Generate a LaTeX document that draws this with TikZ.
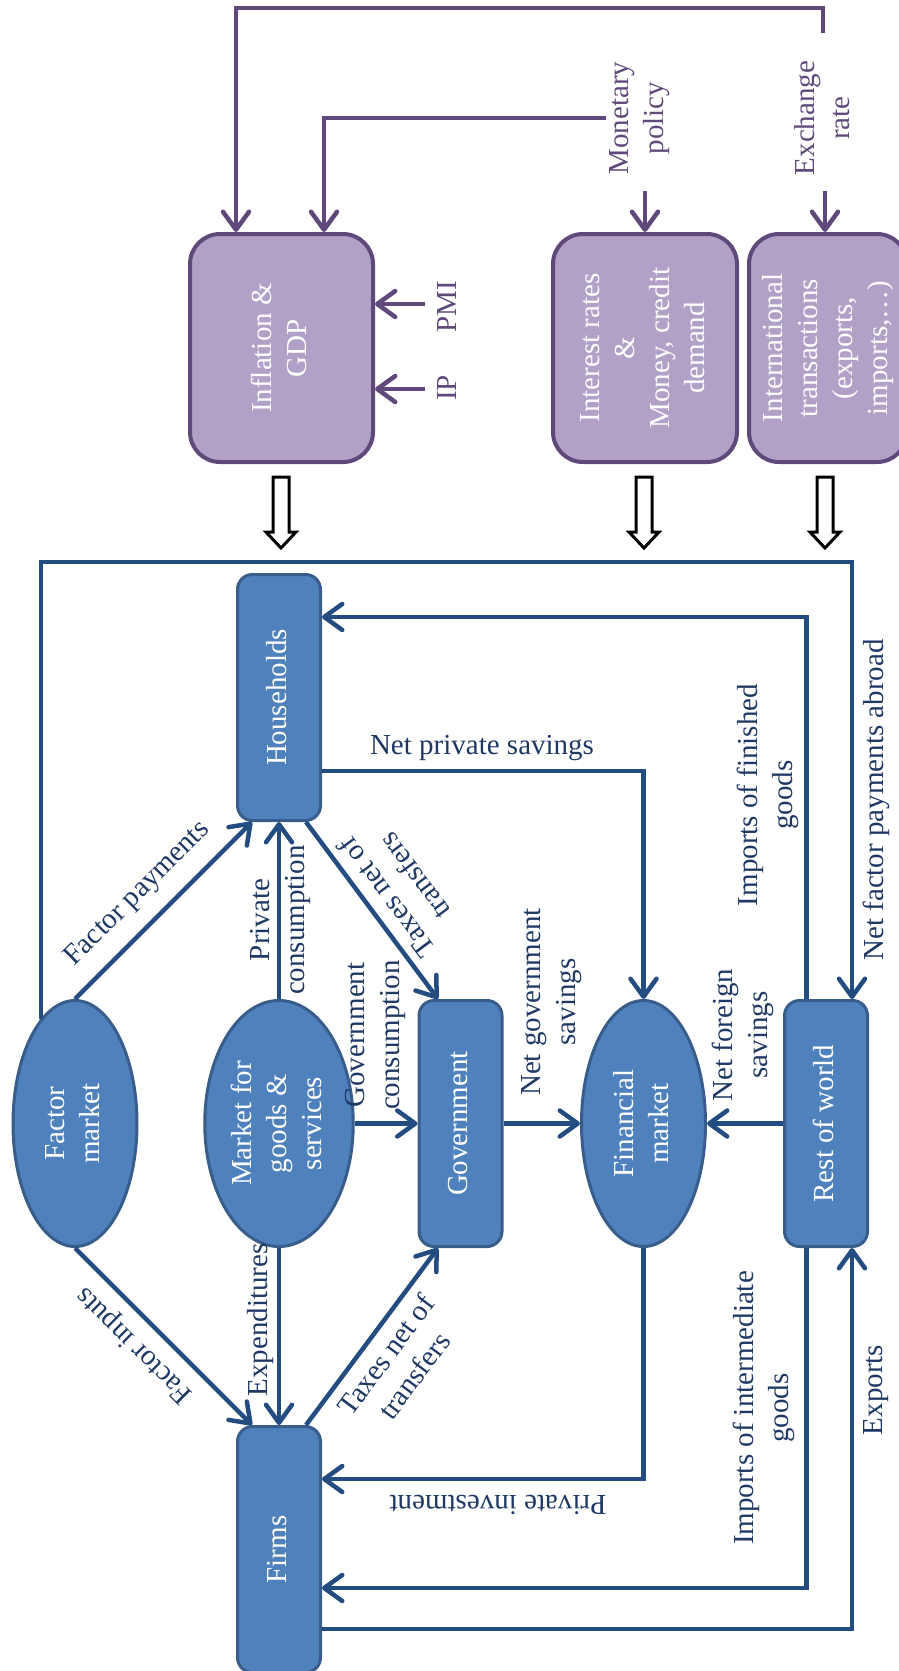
\documentclass[tikz,border=0pt]{standalone}
\usepackage{graphicx}
\usepackage{fontspec}
\setmainfont{Liberation Serif}
\usetikzlibrary{shapes.geometric,arrows.meta,calc}
\definecolor{bfill}{HTML}{4F81BD}
\definecolor{bdraw}{HTML}{385D8A}
\definecolor{bline}{HTML}{234C81}
\definecolor{btext}{HTML}{1F3864}
\definecolor{pfill}{HTML}{B2A1C7}
\definecolor{pdraw}{HTML}{5F497A}
\newcommand{\rtext}[1]{\rotatebox{90}{\begin{tabular}{@{}c@{}}#1\end{tabular}}}
\begin{document}
\begin{tikzpicture}[x=1pt,y=-1pt,
  every node/.style={font=\fontsize{29}{35}\selectfont},
  bbox/.style={draw=bdraw, fill=bfill, line width=3pt, rounded corners=15pt, minimum width=83pt, minimum height=246pt, inner sep=0pt, text=white},
  bell/.style={ellipse, draw=bdraw, fill=bfill, line width=3pt, minimum width=124pt, minimum height=246pt, inner sep=0pt, text=white},
  pbox/.style={draw=pdraw, fill=pfill, line width=4pt, rounded corners=30pt, minimum height=228pt, inner sep=0pt, text=white},
  blab/.style={text=btext, align=center},
  plab/.style={text=pdraw, align=center},
  tip/.style={-{Straight Barb[length=18pt,width=26pt,round]}},
  bcon/.style={draw=bline, line width=4.5pt, tip},
  pcon/.style={draw=pdraw, line width=4.5pt, tip},
  hollow/.style={draw=black, fill=white, line width=3pt, line join=miter},
]
\useasboundingbox (0,0) rectangle (898,1671);

% ---------- purple part ----------
\node[pbox, minimum width=183pt] (infl) at (281.5,348) {\rtext{Inflation \&\\GDP}};
\node[pbox, minimum width=184pt] (intr) at (645,348) {\rtext{Interest rates\\\&\\Money, credit\\demand}};
\node[pbox, minimum width=158pt] (intl) at (828,348) {\rtext{International\\transactions\\(exports,\\imports,\ldots)}};

\node[plab, rotate=90] (mon) at (640,118) {Monetary\\policy};
\node[plab, rotate=90] (exr) at (822,118) {Exchange\\rate};
\node[plab, rotate=90] (pmi) at (447,307) {PMI};
\node[plab, rotate=90] (ip) at (447,388) {IP};

\coordinate (exrtop) at (823,33);
\coordinate (monb) at ($(intr.north)+(0,-41)$);
\coordinate (exb) at ($(intl.north)+(-3,-41)$);

\draw[pcon] (exrtop) |- (236,8) -- ($(infl.north)+(-45.5,0)$);
\draw[pcon] (mon.north) -| ($(infl.north)+(42.5,0)$);
\draw[pcon] (monb) -- (intr.north);
\draw[pcon] (exb) -- ($(intl.north)+(-3,0)$);
\draw[pcon] ($(pmi.north)+(-9,-3)$) -- ($(infl.east)+(0,-44)$);
\draw[pcon] ($(ip.north)+(-9,1)$) -- ($(infl.east)+(0,41)$);

% hollow arrows
\coordinate (h1) at (281,477);
\coordinate (h2) at (644,477);
\coordinate (h3) at (825,477);
\foreach \h in {h1,h2,h3}{
  \draw[hollow] (\h) ++(-8,0) -- ++(16,0) -- ++(0,55) -- ++(7,0) -- ++(-15,16) -- ++(-15,-16) -- ++(7,0) -- cycle;
}

% ---------- blue part ----------
\node[bbox] (hh) at (279,697.5) {\rtext{Households}};
\node[bell] (fm) at (75,1123.5) {\rtext{Factor\\market}};
\node[bell] (mg) at (279,1123.5) {\rtext{Market for\\goods \&\\services}};
\node[bbox] (gov) at (460.5,1123.5) {\rtext{Government}};
\node[bell] (fin) at (643.5,1123.5) {\rtext{Financial\\market}};
\node[bbox] (rw) at (826,1123.5) {\rtext{Rest of world}};
\node[bbox] (firm) at (279,1549.5) {\rtext{Firms}};

\coordinate (tr) at (852,562);

\draw[bcon] (fm.north) -- ($(hh.south)+(-27,0)$);
\draw[bcon] (mg.north) -- (hh.south);
\draw[bcon] ($(hh.south)+(27,0)$) -- ($(gov.north)+(-22.5,0)$);
\draw[bcon] (mg.east) -- (gov.west);
\draw[bcon] (gov.east) -- (fin.west);
\draw[bcon] (rw.west) -- (fin.east);
\draw[bcon] (fm.south) -- ($(firm.north)+(-27,0)$);
\draw[bcon] (mg.south) -- (firm.north);
\draw[bcon] ($(firm.north)+(27,0)$) -- ($(gov.south)+(-22.5,0)$);
\draw[bcon] ($(hh.east)+(0,73.5)$) -| (fin.north);
\draw[bcon] ($(rw.north)+(-19.5,0)$) |- ($(hh.east)+(0,-80.5)$);
\draw[bcon] (fm.108) |- (tr) -- ($(rw.north)+(26,0)$);
\draw[bcon] (fin.south) |- ($(firm.east)+(0,-70.5)$);
\draw[bcon] ($(rw.south)+(-19.5,0)$) |- ($(firm.east)+(0,38.5)$);
\draw[bcon] ($(firm.east)+(0,79.5)$) -| ($(rw.south)+(26,0)$);

% labels
\node[blab, rotate=45] (lfp) at (138,894) {Factor payments};
\node[blab, rotate=90] (lpc) at (280,920) {Private\\consumption};
\node[blab, rotate=126.7] (ltx1) at (400,887) {Taxes net of\\transfers};
\node[blab, rotate=90] (lgc) at (375,1035) {Government\\consumption};
\node[blab, rotate=90] (lng) at (552,1002) {Net government\\savings};
\node[blab, rotate=90] (lnf) at (743,1035) {Net foreign\\savings};
\node[blab, rotate=90] (lnfp) at (876,800) {Net factor payments abroad};
\node[blab, rotate=90] (lif) at (768,795) {Imports of finished\\goods};
\node[blab] (lnps) at (482,748) {Net private savings};
\node[blab, rotate=135.3] (lfi) at (135,1345) {Factor inputs};
\node[blab, rotate=90] (lex) at (261,1320) {Expenditures};
\node[blab, rotate=53.3] (ltx2) at (400,1365) {Taxes net of\\transfers};
\node[blab, rotate=180] (lpi) at (498,1505) {Private investment};
\node[blab, rotate=90] (lii) at (764,1408) {Imports of intermediate\\goods};
\node[blab, rotate=90] (lexp) at (876,1390) {Exports};
\end{tikzpicture}
\end{document}
